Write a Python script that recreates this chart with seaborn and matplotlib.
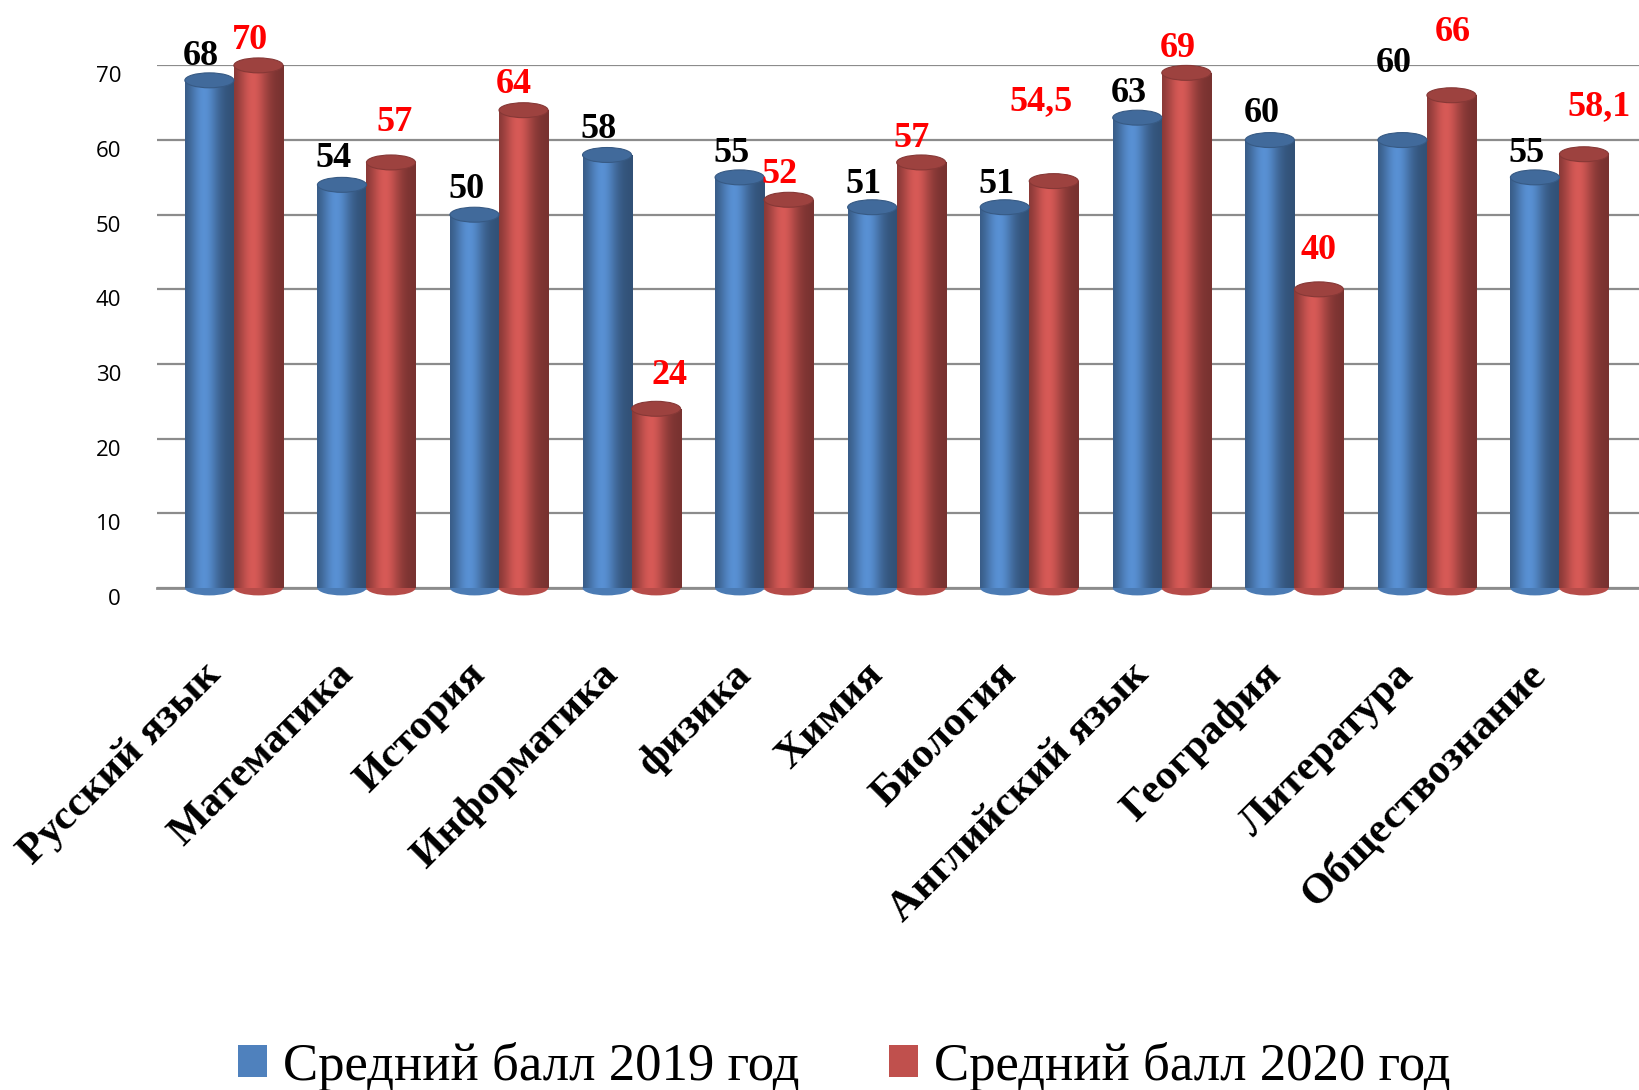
import numpy as np
import pandas as pd
import matplotlib
matplotlib.use("Agg")
import matplotlib.pyplot as plt
import seaborn as sns
from matplotlib.patches import Ellipse, Patch
from matplotlib.colors import to_rgb
from matplotlib.transforms import ScaledTranslation, blended_transform_factory

# ---------------- data ----------------
subjects = ["Русский язык", "Математика", "История", "Информатика", "физика",
            "Химия", "Биология", "Английский язык", "География", "Литература",
            "Обществознание"]
scores_2019 = [68, 54, 50, 58, 55, 51, 51, 63, 60, 60, 55]
scores_2020 = [70, 57, 64, 24, 52, 57, 54.5, 69, 40, 66, 58.1]
series_names = ["Средний балл 2019 год", "Средний балл 2020 год"]
y_ticks = [0, 10, 20, 30, 40, 50, 60, 70]

# ---------------- style ----------------
colors = ["#4F81BD", "#C0504D"]
label_colors = ["black", "#FF0000"]
# manual label offsets (display px): horizontal, vertical above bar top
dx_2019 = [-8] * 11
dy_2019 = [15, 17, 16, 16, 15, 14, 14, 15, 17, 65, 15]
dx_2020 = [-8, 3, -9, 13, -9, -9, -12, -8, 0, 1, 14]
dy_2020 = [16, 30, 16, 24, 16, 15, 68, 15, 29, 52, 37]

def fmt(v):
    return f"{v:g}".replace(".", ",")

df = pd.DataFrame({
    "subject": subjects * 2,
    "score": scores_2019 + scores_2020,
    "series": [series_names[0]] * len(subjects) + [series_names[1]] * len(subjects),
})

sns.set_theme(style="white")
plt.rcParams["font.family"] = ["Liberation Serif", "DejaVu Sans"]
plt.rcParams["text.color"] = "black"
plt.rcParams["xtick.color"] = "black"
plt.rcParams["ytick.color"] = "black"

fig = plt.figure(figsize=(16.39, 10.9), dpi=100)
ax = fig.add_axes([0.0958, 0.4606, 0.9042, 0.4794])

sns.barplot(data=df, x="subject", y="score", hue="series", palette=colors,
            width=0.74, gap=0, errorbar=None, ax=ax, legend=False,
            saturation=1, zorder=3, linewidth=0)

ell_h = 2.0
grad_n = 64
t = np.linspace(0, 1, grad_n)
shade = 0.62 + 0.5 * np.exp(-((t - 0.38) / 0.3) ** 2)
shade = np.clip(shade, 0, 1.12)

for ci, cont in enumerate(ax.containers):
    base = np.array(to_rgb(colors[ci]))
    img = np.clip(base[None, None, :] * shade[None, :, None], 0, 1)
    img = np.repeat(img, 2, axis=0)
    dxs = dx_2019 if ci == 0 else dx_2020
    dys = dy_2019 if ci == 0 else dy_2020
    vals = scores_2019 if ci == 0 else scores_2020
    for j, p in enumerate(cont.patches):
        x0 = p.get_x(); w = p.get_width(); h = p.get_height()
        cx = x0 + w / 2
        bot = Ellipse((cx, 0), w, ell_h, facecolor=np.clip(base * 0.95, 0, 1),
                      edgecolor="none", zorder=2.9, clip_on=False)
        ax.add_patch(bot)
        im = ax.imshow(img, extent=(x0, x0 + w, 0, h), aspect="auto",
                       interpolation="bicubic", zorder=3.1)
        im.set_clip_path(p)
        top = Ellipse((cx, h), w, ell_h, facecolor=np.clip(base * 0.82, 0, 1),
                      edgecolor=np.clip(base * 0.7, 0, 1), lw=0.8, zorder=3.2,
                      clip_on=False)
        ax.add_patch(top)
        ax.annotate(fmt(vals[j]), (cx, h), xytext=(dxs[j] * 0.753, dys[j] * 0.753),
                    textcoords="offset points", ha="center", va="baseline",
                    fontsize=26, fontweight="bold", color=label_colors[ci],
                    annotation_clip=False, zorder=5)

ax.set_xlim(-0.58, 10.6)
ax.set_ylim(0, 70)

# y tick labels (placed slightly below their value, as on the 3D floor front)
ax.set_yticks(y_ticks)
ax.set_yticklabels([])
ax.tick_params(axis="y", length=0)
ytr = blended_transform_factory(ax.transAxes, ax.transData) + \
    ScaledTranslation(-0.36, -0.115, fig.dpi_scale_trans)
for v in y_ticks:
    ax.text(0, v, str(v), transform=ytr, ha="right", va="center",
            fontsize=16, family="Open Sans", color="black")

# x category labels
ax.set_xticks(range(len(subjects)))
ax.set_xticklabels([])
ax.tick_params(axis="x", length=0)
xtr = blended_transform_factory(ax.transData, ax.transAxes) + \
    ScaledTranslation(-0.19, -0.81, fig.dpi_scale_trans)
for i, name in enumerate(subjects):
    ax.text(i, 0, name, transform=xtr, rotation=45, ha="right", va="center",
            rotation_mode="anchor", fontsize=31, fontweight="bold", color="black")

ax.yaxis.grid(True, color="#8C8C8C", lw=1.6, zorder=0)
ax.set_axisbelow(True)
for s in ["left", "right", "top"]:
    ax.spines[s].set_visible(False)
ax.spines["bottom"].set_color("#8C8C8C")
ax.spines["bottom"].set_linewidth(2)
ax.set_xlabel("")
ax.set_ylabel("")

handles = [Patch(facecolor=c, edgecolor="none") for c in colors]
fig.legend(handles, series_names, loc="center", bbox_to_anchor=(0.515, 0.022),
           ncol=2, frameon=False, fontsize=38, handlelength=0.55, handleheight=0.55,
           handletextpad=0.3, columnspacing=1.7)

fig.savefig("out.png", dpi=100)
